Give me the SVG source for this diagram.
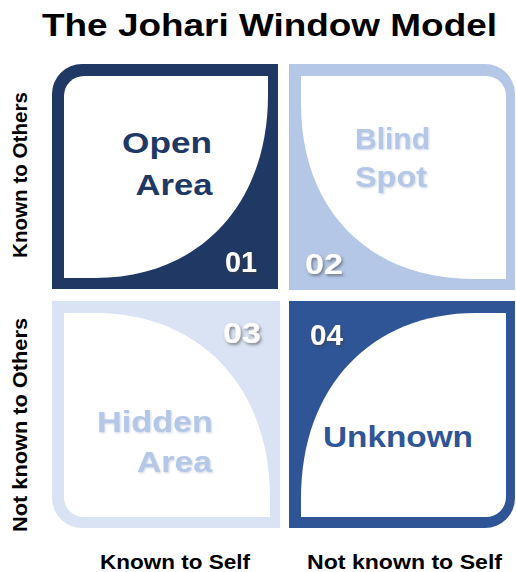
<svg xmlns="http://www.w3.org/2000/svg" width="516" height="572" viewBox="0 0 516 572">
  <defs>
    <filter id="numShadow" x="-30%" y="-30%" width="160%" height="160%">
      <feDropShadow dx="1.5" dy="2" stdDeviation="1.5" flood-color="#3a3a3a" flood-opacity="0.55"/>
    </filter>
    <filter id="softShadow" x="-10%" y="-20%" width="120%" height="140%">
      <feDropShadow dx="0.8" dy="1" stdDeviation="0.8" flood-color="#8a9cc0" flood-opacity="0.45"/>
    </filter>
  </defs>
  <style>
    text { font-family: "Liberation Sans", Arial, sans-serif; font-weight: bold; }
    .title { font-size: 31px; fill: #000; }
    .axis { font-size: 21px; fill: #000; }
    .label { font-size: 29px; text-anchor: middle; }
    .num { font-size: 30px; fill: #fff; filter: url(#numShadow); }
    .white { fill: #fff; }
  </style>

  <!-- title -->
  <text class="title" x="269.5" y="36" text-anchor="middle" textLength="455" lengthAdjust="spacingAndGlyphs">The Johari Window Model</text>

  <!-- axis captions -->
  <text class="axis" transform="translate(27,175) rotate(-90)" text-anchor="middle" textLength="166" lengthAdjust="spacingAndGlyphs">Known to Others</text>
  <text class="axis" transform="translate(27,425) rotate(-90)" text-anchor="middle" textLength="214" lengthAdjust="spacingAndGlyphs">Not known to Others</text>
  <text class="axis" x="100" y="569" textLength="150" lengthAdjust="spacingAndGlyphs">Known to Self</text>
  <text class="axis" x="307" y="569" textLength="195" lengthAdjust="spacingAndGlyphs">Not known to Self</text>

  <!-- quadrant 1: open area -->
  <g id="open-area">
    <path d="M52,94 A30,30 0 0 1 82,64 H278 V289 H52 Z" fill="#203864"/>
    <path class="white" d="M64,96 A20,20 0 0 1 84,76 H268 V95 C268,205 199,278 95,278 H64 Z"/>
    <text class="label" fill="#203864" x="167" y="153" textLength="90" lengthAdjust="spacingAndGlyphs">Open</text>
    <text class="label" fill="#203864" x="174" y="195" textLength="77" lengthAdjust="spacingAndGlyphs">Area</text>
    <text class="num" x="225" y="272" textLength="32" lengthAdjust="spacingAndGlyphs">01</text>
  </g>

  <!-- quadrant 2: blind spot -->
  <g id="blind-spot">
    <path d="M289,64 H485 A30,30 0 0 1 515,94 V290 H289 Z" fill="#b4c7e7"/>
    <path class="white" d="M301,76 H486 A20,20 0 0 1 506,96 V279 H473 C369,279 301,210 301,104 Z"/>
    <text class="label" fill="#b4c7e7" filter="url(#softShadow)" x="392.5" y="149" textLength="75" lengthAdjust="spacingAndGlyphs">Blind</text>
    <text class="label" fill="#b4c7e7" filter="url(#softShadow)" x="391" y="187" textLength="72" lengthAdjust="spacingAndGlyphs">Spot</text>
    <text class="num" x="305" y="274" textLength="38" lengthAdjust="spacingAndGlyphs">02</text>
  </g>

  <!-- quadrant 3: hidden area -->
  <g id="hidden-area">
    <path d="M52,301 H280 V528 H82 A30,30 0 0 1 52,498 Z" fill="#dae3f3"/>
    <path class="white" d="M64,313 H95 C200,313 270,387 270,498 V517 H84 A20,20 0 0 1 64,497 Z"/>
    <text class="label" fill="#b4c7e7" filter="url(#softShadow)" x="155" y="432" textLength="116" lengthAdjust="spacingAndGlyphs">Hidden</text>
    <text class="label" fill="#b4c7e7" filter="url(#softShadow)" x="174.5" y="472" textLength="75" lengthAdjust="spacingAndGlyphs">Area</text>
    <text class="num" x="223" y="343" textLength="38" lengthAdjust="spacingAndGlyphs">03</text>
  </g>

  <!-- quadrant 4: unknown -->
  <g id="unknown">
    <path d="M289,301 H515 V498 A30,30 0 0 1 485,528 H289 Z" fill="#2f5597"/>
    <path class="white" d="M476,313 H506 V497 A20,20 0 0 1 486,517 H301 V498 C301,387 371,313 476,313 Z"/>
    <text class="label" fill="#2f5597" x="398" y="447" textLength="150" lengthAdjust="spacingAndGlyphs">Unknown</text>
    <text class="num" x="310" y="345" textLength="33" lengthAdjust="spacingAndGlyphs">04</text>
  </g>
</svg>
